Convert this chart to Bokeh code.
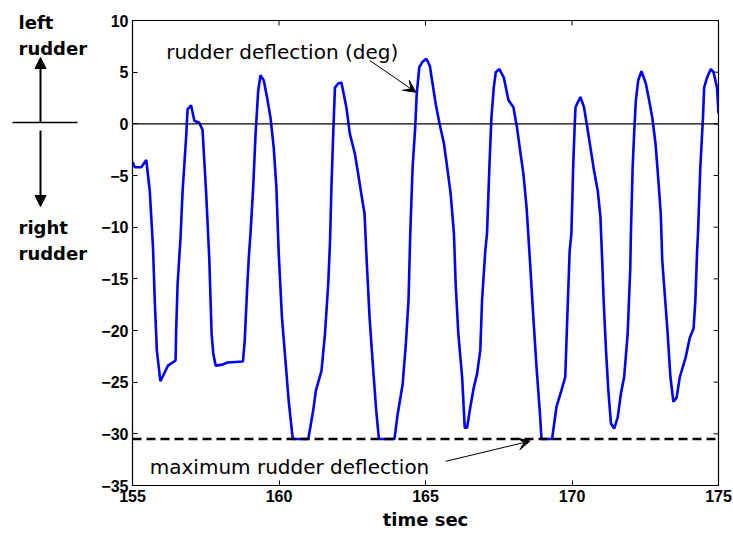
from bokeh.plotting import figure
from bokeh.models import (Arrow, VeeHead, NormalHead, Label, Span, Range1d, FixedTicker)
from bokeh.layouts import row
from bokeh.embed import file_html
from bokeh.resources import INLINE

# ---------------- data ----------------
time_sec = [155.00, 155.08, 155.30, 155.47, 155.59, 155.70, 155.76, 155.83, 155.95, 156.04,
            156.21, 156.47, 156.49, 156.54, 156.64, 156.71, 156.83, 156.88, 157.00, 157.11,
            157.28, 157.39, 157.51, 157.62, 157.70, 157.76, 157.84, 158.07, 158.24, 158.77,
            158.83, 158.91, 158.97, 159.03, 159.12, 159.20, 159.29, 159.37, 159.48, 159.59,
            159.71, 159.82, 159.91, 159.99, 160.10, 160.22, 160.33, 160.47, 161.00, 161.17,
            161.26, 161.45, 161.57, 161.68, 161.74, 161.79, 161.85, 161.91, 162.02, 162.13,
            162.30, 162.42, 162.59, 162.70, 162.81, 162.92, 162.98, 163.09, 163.21, 163.32,
            163.41, 163.94, 164.05, 164.22, 164.33, 164.42, 164.48, 164.56, 164.65, 164.70,
            164.79, 164.90, 165.03, 165.15, 165.24, 165.35, 165.48, 165.63, 165.74, 165.86,
            165.97, 166.03, 166.12, 166.25, 166.34, 166.42, 166.53, 166.65, 166.76, 166.87,
            166.93, 167.04, 167.10, 167.18, 167.25, 167.33, 167.40, 167.52, 167.67, 167.83,
            168.00, 168.12, 168.23, 168.34, 168.45, 168.57, 168.68, 168.79, 168.90, 168.96,
            169.32, 169.47, 169.64, 169.77, 169.84, 169.92, 169.98, 170.04, 170.09, 170.12,
            170.20, 170.29, 170.41, 170.52, 170.63, 170.75, 170.88, 170.97, 171.03, 171.08,
            171.16, 171.24, 171.33, 171.44, 171.56, 171.67, 171.78, 171.90, 171.99, 172.01,
            172.07, 172.12, 172.18, 172.26, 172.37, 172.52, 172.63, 172.74, 172.85, 172.93,
            173.03, 173.08, 173.14, 173.25, 173.36, 173.46, 173.57, 173.68, 173.88, 174.02,
            174.15, 174.21, 174.27, 174.30, 174.38, 174.47, 174.51, 174.61, 174.74, 174.83,
            174.95, 175.00]

rudder_deg = [-3.7, -4.2, -4.2, -3.5, -6.5, -12.0, -17.1, -21.9, -24.9, -24.4,
              -23.4, -22.9, -20.0, -15.5, -11.0, -6.5, -1.3, 1.4, 1.8, 0.3,
              0.1, -0.6, -6.5, -13.0, -20.3, -22.3, -23.4, -23.3, -23.1, -23.0,
              -21.0, -16.1, -12.9, -10.5, -6.1, -1.0, 3.2, 4.7, 4.2, 2.6,
              0.6, -2.3, -6.1, -12.5, -18.7, -22.9, -26.8, -30.5, -30.5, -27.7,
              -25.8, -23.9, -20.3, -15.5, -11.5, -6.1, -1.0, 3.5, 3.9, 4.0,
              1.6, -1.0, -2.9, -4.8, -6.8, -8.7, -12.5, -18.7, -23.6, -27.8,
              -30.5, -30.5, -28.1, -25.2, -21.3, -17.1, -10.6, -4.2, -0.3, 2.9,
              5.5, 6.0, 6.3, 5.6, 3.9, 1.9, 0.0, -1.9, -4.2, -6.8,
              -10.6, -15.5, -20.3, -24.5, -29.4, -29.4, -27.4, -25.5, -24.2, -21.9,
              -17.1, -12.3, -10.6, -4.2, 0.6, 3.5, 5.0, 5.3, 4.5, 2.3,
              1.6, -0.3, -2.6, -4.8, -8.1, -13.5, -18.7, -23.6, -27.8, -30.5,
              -30.5, -27.4, -25.8, -24.5, -18.7, -12.3, -10.6, -4.2, -0.3, 1.6,
              2.1, 2.6, 1.6, -0.3, -2.3, -4.5, -6.5, -9.0, -13.2, -17.1,
              -21.9, -25.8, -29.0, -29.5, -28.4, -26.1, -24.5, -20.3, -13.9, -10.6,
              -4.2, -1.0, 2.3, 4.2, 5.1, 3.9, 2.3, 0.6, -1.9, -4.8,
              -8.7, -13.2, -15.5, -19.7, -24.5, -26.9, -26.5, -24.5, -22.6, -20.7,
              -19.8, -17.1, -12.3, -10.6, -4.2, 0.6, 3.5, 4.5, 5.3, 5.0,
              3.5, 1.0]

max_deflection = -30.5
x_ticks = [155, 160, 165, 170, 175]
y_ticks = [10, 5, 0, -5, -10, -15, -20, -25, -30, -35]

X_MIN, X_MAX = 155, 175
Y_MIN, Y_MAX = -35, 10

TICK_FONT = "Liberation Sans"
TEXT_FONT = "DejaVu Sans"

HEIGHT = 537

# ---------------- left legend panel (data units == page pixels) ----------------
p0 = figure(width=98, height=HEIGHT, x_range=Range1d(0, 98), y_range=Range1d(HEIGHT, 0),
            output_backend="svg", toolbar_location=None, min_border=0,
            x_axis_location=None, y_axis_location=None)
p0.frame_align = False
p0.grid.visible = False
p0.outline_line_color = None

for txt, yy in [("left", 21.7), ("rudder", 48.3), ("right", 226.7), ("rudder", 253.3)]:
    p0.add_layout(Label(x=18, y=yy, text=txt, text_font=TEXT_FONT, text_font_size="18px",
                        text_font_style="bold", text_color="black",
                        text_baseline="alphabetic", text_align="left"))

p0.segment(x0=[12], y0=[122], x1=[77], y1=[122], line_color="black", line_width=1.5)
p0.add_layout(Arrow(end=NormalHead(size=11, fill_color="black", line_color="black"),
                    x_start=40, y_start=122, x_end=40, y_end=57,
                    line_color="black", line_width=2))
p0.add_layout(Arrow(end=NormalHead(size=11, fill_color="black", line_color="black"),
                    x_start=40, y_start=130, x_end=40, y_end=206,
                    line_color="black", line_width=2))

# ---------------- main plot ----------------
p = figure(width=635, height=HEIGHT, x_range=Range1d(X_MIN, X_MAX), y_range=Range1d(Y_MIN, Y_MAX),
           output_backend="svg", toolbar_location=None,
           min_border_left=30, min_border_right=15, min_border_top=20, min_border_bottom=52)
p.frame_align = False
p.grid.visible = False
p.outline_line_color = "black"
p.outline_line_width = 1.2

p.line(time_sec, rudder_deg, line_color="#0000ff", line_width=2.6)

p.add_layout(Span(location=0, dimension="width", line_color="black", line_width=1.2))
p.add_layout(Span(location=max_deflection, dimension="width", line_color="black",
                  line_width=2.4, line_dash="9 5"))

for ax, ticks in [(p.xaxis[0], x_ticks), (p.yaxis[0], y_ticks)]:
    ax.ticker = FixedTicker(ticks=ticks)
    ax.major_tick_in = 5
    ax.major_tick_out = 0
    ax.minor_tick_line_color = None
    ax.axis_line_color = "black"
    ax.major_tick_line_color = "black"
    ax.major_label_text_font = TICK_FONT
    ax.major_label_text_font_style = "bold"
    ax.major_label_text_font_size = "16px"
    ax.major_label_text_color = "black"
    ax.major_label_standoff = 4

p.xaxis.axis_label = "time sec"
p.xaxis.axis_label_text_font = TEXT_FONT
p.xaxis.axis_label_text_font_style = "bold"
p.xaxis.axis_label_text_font_size = "18px"
p.xaxis.axis_label_text_color = "black"
p.xaxis.axis_label_standoff = 4

# inward ticks on the top and right edges (MATLAB box style)
x_tick_len = (Y_MAX - Y_MIN) * 5 / 465.0
y_tick_len = (X_MAX - X_MIN) * 5 / 590.0
p.segment(x0=x_ticks, y0=[Y_MAX] * len(x_ticks), x1=x_ticks,
          y1=[Y_MAX - x_tick_len] * len(x_ticks), line_color="black", line_width=1)
p.segment(x0=[X_MAX] * len(y_ticks), y0=y_ticks, x1=[X_MAX - y_tick_len] * len(y_ticks),
          y1=y_ticks, line_color="black", line_width=1)

p.add_layout(Label(x=156.15, y=6.93, text="rudder deflection (deg)", text_font=TEXT_FONT,
                   text_font_size="20px", text_color="black",
                   text_baseline="alphabetic", text_align="left"))
p.add_layout(Label(x=155.59, y=-33.24, text="maximum rudder deflection", text_font=TEXT_FONT,
                   text_font_size="20px", text_color="black",
                   text_baseline="alphabetic", text_align="left"))

p.add_layout(Arrow(end=VeeHead(size=12, fill_color="black", line_color="black"),
                   x_start=163.10, y_start=6.13, x_end=164.67, y_end=3.06,
                   line_color="black", line_width=1))
p.add_layout(Arrow(end=VeeHead(size=12, fill_color="black", line_color="black"),
                   x_start=165.69, y_start=-32.66, x_end=168.57, y_end=max_deflection - 0.2,
                   line_color="black", line_width=1))

layout = row(p0, p)
open("out.html", "w").write(file_html(layout, INLINE))
